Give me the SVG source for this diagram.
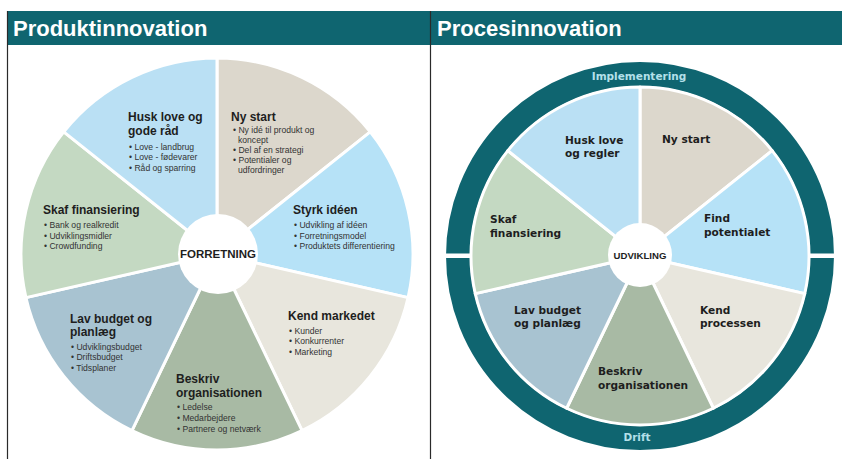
<svg xmlns="http://www.w3.org/2000/svg" width="842" height="459" viewBox="0 0 842 459">
<style>
.hdr{font-family:"Liberation Sans",Arial,sans-serif;font-weight:bold;font-size:22px;fill:#ffffff}
.wedge{stroke:#ffffff;stroke-width:3;stroke-linejoin:round}
.lt{font-family:"Liberation Sans",Arial,sans-serif;font-weight:bold;font-size:12px;fill:#1e1e1e}
.lb{font-family:"Liberation Sans",Arial,sans-serif;font-size:8.6px;fill:#333333}
.rt{font-family:"DejaVu Sans","Liberation Sans",sans-serif;font-weight:bold;font-size:10.6px;fill:#1e1e1e}
.ring{font-family:"DejaVu Sans","Liberation Sans",sans-serif;font-weight:bold;font-size:10.5px;fill:#b4e0ea}
.hub{font-family:"Liberation Sans",Arial,sans-serif;font-weight:bold;fill:#1e1e1e}
.c1{fill:#dcd7cc}.c2{fill:#b6e2f7}.c3{fill:#e8e6dd}.c4{fill:#a8baa4}.c5{fill:#a8c3d1}.c6{fill:#c4d9c2}.c7{fill:#bae0f4}
</style>
<rect x="0" y="0" width="842" height="459" fill="#ffffff"/>
<g id="headers">
<rect x="7" y="11" width="835" height="34" fill="#0f6570"/>
<text class="hdr" x="13" y="36">Produktinnovation</text>
<text class="hdr" x="437" y="36">Procesinnovation</text>
</g>
<g id="frames" stroke="#2a2a2a" stroke-width="1.2">
<line x1="7.5" y1="11" x2="7.5" y2="459"/>
<line x1="430.5" y1="11" x2="430.5" y2="459"/>
</g>

<g id="produkt-pie">
<g id="p-nystart"><path class="wedge c1" d="M217 254 L217 58 A196 196 0 0 1 370.24 131.8 Z"/>
<text class="lt" x="231" y="121">Ny start</text>
<text class="lb"><tspan x="233" y="133">• Ny idé til produkt og</tspan><tspan x="238" y="143">koncept</tspan><tspan x="233" y="153">• Del af  en strategi</tspan><tspan x="233" y="163">• Potentialer og</tspan><tspan x="238" y="173">udfordringer</tspan></text></g>
<g id="p-styrk"><path class="wedge c2" d="M217 254 L370.24 131.8 A196 196 0 0 1 408.09 297.61 Z"/>
<text class="lt" x="293" y="214">Styrk idéen</text>
<text class="lb"><tspan x="294" y="228">• Udvikling af  idéen</tspan><tspan x="294" y="239">• Forretningsmodel</tspan><tspan x="294" y="249">• Produktets differentiering</tspan></text></g>
<g id="p-kend"><path class="wedge c3" d="M217 254 L408.09 297.61 A196 196 0 0 1 302.04 430.59 Z"/>
<text class="lt" x="288" y="320">Kend markedet</text>
<text class="lb"><tspan x="289" y="334">• Kunder</tspan><tspan x="289" y="344">• Konkurrenter</tspan><tspan x="289" y="355">• Marketing</tspan></text></g>
<g id="p-beskriv"><path class="wedge c4" d="M217 254 L302.04 430.59 A196 196 0 0 1 131.96 430.59 Z"/>
<text class="lt"><tspan x="176" y="383">Beskriv</tspan><tspan x="176" y="397">organisationen</tspan></text>
<text class="lb"><tspan x="177" y="410">• Ledelse</tspan><tspan x="177" y="421">• Medarbejdere</tspan><tspan x="177" y="432">• Partnere og netværk</tspan></text></g>
<g id="p-lav"><path class="wedge c5" d="M217 254 L131.96 430.59 A196 196 0 0 1 25.91 297.61 Z"/>
<text class="lt"><tspan x="70" y="323">Lav budget og</tspan><tspan x="70" y="336">planlæg</tspan></text>
<text class="lb"><tspan x="71" y="350">• Udviklingsbudget</tspan><tspan x="71" y="360">• Driftsbudget</tspan><tspan x="71" y="371">• Tidsplaner</tspan></text></g>
<g id="p-skaf"><path class="wedge c6" d="M217 254 L25.91 297.61 A196 196 0 0 1 63.76 131.8 Z"/>
<text class="lt" x="43" y="214">Skaf finansiering</text>
<text class="lb"><tspan x="44" y="228">• Bank og realkredit</tspan><tspan x="44" y="239">• Udviklingsmidler</tspan><tspan x="44" y="249">• Crowdfunding</tspan></text></g>
<g id="p-husk"><path class="wedge c7" d="M217 254 L63.76 131.8 A196 196 0 0 1 217 58 Z"/>
<text class="lt"><tspan x="128" y="121">Husk love og</tspan><tspan x="128" y="135">gode råd</tspan></text>
<text class="lb"><tspan x="129" y="150">• Love - landbrug</tspan><tspan x="129" y="160">• Love - fødevarer</tspan><tspan x="129" y="171">• Råd og sparring</tspan></text></g>
<g id="p-hub"><circle cx="218" cy="254" r="40" fill="#ffffff"/>
<text class="hub" x="218" y="258" font-size="11.5" text-anchor="middle">FORRETNING</text></g>
</g>

<g id="proces-pie">
<g id="ring">
<circle cx="640" cy="256" r="182" fill="none" stroke="#0f6570" stroke-width="24"/>
<rect x="440" y="253.5" width="35" height="4.5" fill="#ffffff"/>
<rect x="806" y="253.5" width="36" height="4.5" fill="#ffffff"/>
<text class="ring" x="639" y="80" text-anchor="middle">Implementering</text>
<text class="ring" x="637" y="441" text-anchor="middle">Drift</text>
</g>
<g id="r-nystart"><path class="wedge c1" d="M640 256 L640 87 A169 169 0 0 1 772.13 150.63 Z"/>
<text class="rt" x="662" y="143">Ny start</text></g>
<g id="r-find"><path class="wedge c2" d="M640 256 L772.13 150.63 A169 169 0 0 1 804.76 293.61 Z"/>
<text class="rt"><tspan x="704" y="222">Find</tspan><tspan x="704" y="236">potentialet</tspan></text></g>
<g id="r-kend"><path class="wedge c3" d="M640 256 L804.76 293.61 A169 169 0 0 1 713.33 408.26 Z"/>
<text class="rt"><tspan x="700" y="314">Kend</tspan><tspan x="700" y="327">processen</tspan></text></g>
<g id="r-beskriv"><path class="wedge c4" d="M640 256 L713.33 408.26 A169 169 0 0 1 566.67 408.26 Z"/>
<text class="rt"><tspan x="598" y="375">Beskriv</tspan><tspan x="598" y="389">organisationen</tspan></text></g>
<g id="r-lav"><path class="wedge c5" d="M640 256 L566.67 408.26 A169 169 0 0 1 475.24 293.61 Z"/>
<text class="rt"><tspan x="514" y="314">Lav budget</tspan><tspan x="514" y="327">og planlæg</tspan></text></g>
<g id="r-skaf"><path class="wedge c6" d="M640 256 L475.24 293.61 A169 169 0 0 1 507.87 150.63 Z"/>
<text class="rt"><tspan x="490" y="223">Skaf</tspan><tspan x="490" y="237">finansiering</tspan></text></g>
<g id="r-husk"><path class="wedge c7" d="M640 256 L507.87 150.63 A169 169 0 0 1 640 87 Z"/>
<text class="rt"><tspan x="565" y="144">Husk love</tspan><tspan x="565" y="157">og regler</tspan></text></g>
<g id="r-hub"><circle cx="640" cy="255" r="32" fill="#ffffff"/>
<text class="hub" x="640" y="258.5" font-size="9.6" text-anchor="middle">UDVIKLING</text></g>
</g>
</svg>
